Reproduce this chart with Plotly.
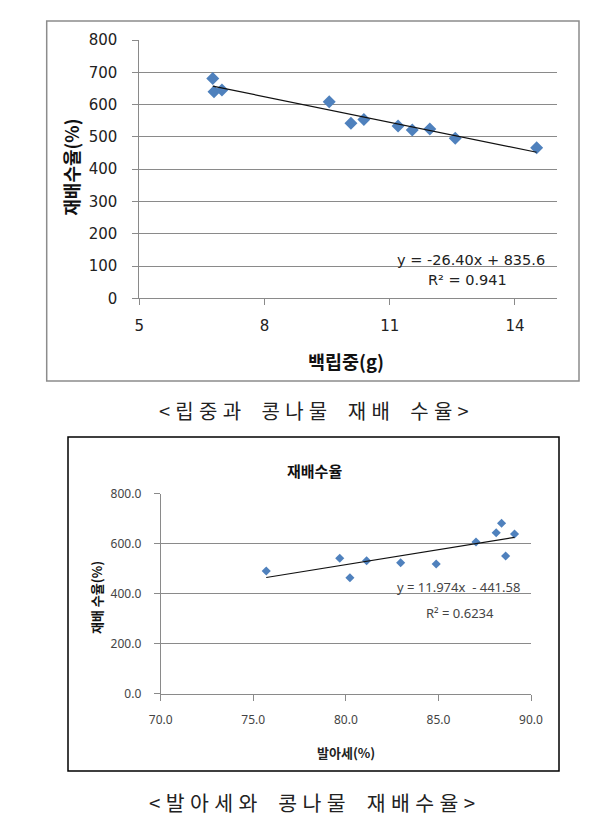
from plotly import graph_objects as go

W, H = 613, 819
OFF = 8   # the page body has an 8px margin, so shift everything back

# chart 1: 백립중 vs 재배수율
seed_weight = [6.76, 6.79, 6.98, 9.55, 10.07, 10.38, 11.20, 11.54, 11.96, 12.57, 14.52]
yield_1 = [681, 640, 645, 609, 542, 554, 534, 521, 524, 496, 466]
trend_1 = [-26.40, 835.6]   # slope, intercept (from chart label)

# chart 2: 발아세 vs 재배수율
vigor = [75.70, 79.67, 80.22, 81.12, 82.96, 84.88, 87.03, 88.12, 88.41, 88.63, 89.11]
yield_2 = [491, 542, 464, 532, 524, 519, 607, 644, 682, 551, 639]
trend_2 = [11.974, -441.58]

x1_ticks = [5, 8, 11, 14]
y1_ticks = [0, 100, 200, 300, 400, 500, 600, 700, 800]
x2_ticks = [70, 75, 80, 85, 90]
y2_ticks = [0, 200, 400, 600, 800]

KR = "Noto Sans CJK KR"
BLUE = "#4F81BD"
GRID = "#8a8a8a"


def px(x):
    return (x - OFF) / W


def py(y):
    return 1 - (y - OFF) / H


def trend_xy(xs, coef):
    x0, x1 = min(xs), max(xs)
    return [x0, x1], [coef[0] * x0 + coef[1], coef[0] * x1 + coef[1]]


def spaced(text):
    # wide letter spacing like the caption font
    return "\u2009\u200a".join(text.replace(" ", "\u2002"))


fig = go.Figure()

fig.add_trace(go.Scatter(x=seed_weight, y=yield_1, mode="markers",
                         marker=dict(symbol="diamond", size=10, color=BLUE),
                         xaxis="x", yaxis="y", showlegend=False))
tx, ty = trend_xy(seed_weight, trend_1)
fig.add_trace(go.Scatter(x=tx, y=ty, mode="lines", line=dict(color="#111", width=1.2),
                         xaxis="x", yaxis="y", showlegend=False))

fig.add_trace(go.Scatter(x=vigor, y=yield_2, mode="markers",
                         marker=dict(symbol="diamond", size=7, color=BLUE),
                         xaxis="x2", yaxis="y2", showlegend=False))
tx, ty = trend_xy(vigor, trend_2)
fig.add_trace(go.Scatter(x=tx, y=ty, mode="lines", line=dict(color="#111", width=1.2),
                         xaxis="x2", yaxis="y2", showlegend=False))

axis_common = dict(showline=True, linecolor=GRID, linewidth=1, ticks="outside",
                   tickcolor=GRID, ticklen=6, zeroline=False, fixedrange=True,
                   automargin=False)

fig.update_layout(
    template="none",
    width=W, height=H, margin=dict(l=0, r=0, t=0, b=0, autoexpand=False),
    paper_bgcolor="white", plot_bgcolor="white",
    xaxis=dict(domain=[px(139.3), px(556.7)], range=[5, 15], tickvals=x1_ticks,
               showgrid=False, tickfont=dict(family="DejaVu Sans", size=15, color="#222"),
               ticklabelstandoff=8, anchor="y", **axis_common),
    yaxis=dict(domain=[py(298.3), py(40)], range=[0, 800], tickvals=y1_ticks,
               showgrid=True, gridcolor=GRID, gridwidth=1,
               tickfont=dict(family="DejaVu Sans", size=15, color="#222"),
               ticklabelstandoff=12, anchor="x", **axis_common),
    xaxis2=dict(domain=[px(160.7), px(531)], range=[70, 90], tickvals=x2_ticks,
                tickformat=".1f", showgrid=False,
                tickfont=dict(family="Noto Sans", size=12, color="#444"),
                ticklabelstandoff=9, anchor="y2", **axis_common),
    yaxis2=dict(domain=[py(693.7), py(493.7)], range=[0, 800], tickvals=y2_ticks,
                tickformat=".1f", showgrid=True, gridcolor=GRID, gridwidth=1,
                tickfont=dict(family="Noto Sans", size=12, color="#444"),
                ticklabelstandoff=10, anchor="x2", **axis_common),
)

# frames round each chart
fig.add_shape(type="rect", xref="paper", yref="paper",
              x0=px(46.7), x1=px(579), y0=py(381), y1=py(21),
              line=dict(color="#8c8c8c", width=1.5))
fig.add_shape(type="rect", xref="paper", yref="paper",
              x0=px(68), x1=px(559), y0=py(771), y1=py(437),
              line=dict(color="#000", width=1.5))

notes = [
    # chart 1
    dict(x=px(346), y=py(361), text="백립중(g)", font=dict(family=KR, size=18.5, color="#111", weight="bold")),
    dict(x=px(70.7), y=py(167), text="재배수율(%)", textangle=-90,
         font=dict(family=KR, size=18, color="#111", weight="bold")),
    dict(x=px(546.7), y=py(260), text="y = -26.40x + 835.6", xanchor="right",
         font=dict(family="DejaVu Sans", size=14.5, color="#222")),
    dict(x=px(467), y=py(280), text="R² = 0.941",
         font=dict(family="DejaVu Sans", size=14.5, color="#222")),
    dict(x=px(314), y=py(410), text=spaced("<립중과 콩나물 재배 수율>"),
         font=dict(family=KR, size=20, color="#222")),
    # chart 2
    dict(x=px(314), y=py(470), text="재배수율", font=dict(family=KR, size=15, color="#111", weight="bold")),
    dict(x=px(346), y=py(752), text="발아세(%)", font=dict(family=KR, size=13, color="#222", weight="bold")),
    dict(x=px(96), y=py(597), text="재배 수율(%)", textangle=-90,
         font=dict(family=KR, size=13, color="#111", weight="bold")),
    dict(x=px(521.7), y=py(587), text="y = 11.974x  - 441.58", xanchor="right",
         font=dict(family="Noto Sans", size=13, color="#444")),
    dict(x=px(460), y=py(613), text="R² = 0.6234",
         font=dict(family="Noto Sans", size=13, color="#444")),
    dict(x=px(312), y=py(802), text=spaced("<발아세와 콩나물 재배수율>"),
         font=dict(family=KR, size=20.5, color="#222")),
]
for n in notes:
    n.setdefault("xanchor", "center")
    n.setdefault("yanchor", "middle")
    fig.add_annotation(xref="paper", yref="paper", showarrow=False, **n)

fig.write_html("out.html")
